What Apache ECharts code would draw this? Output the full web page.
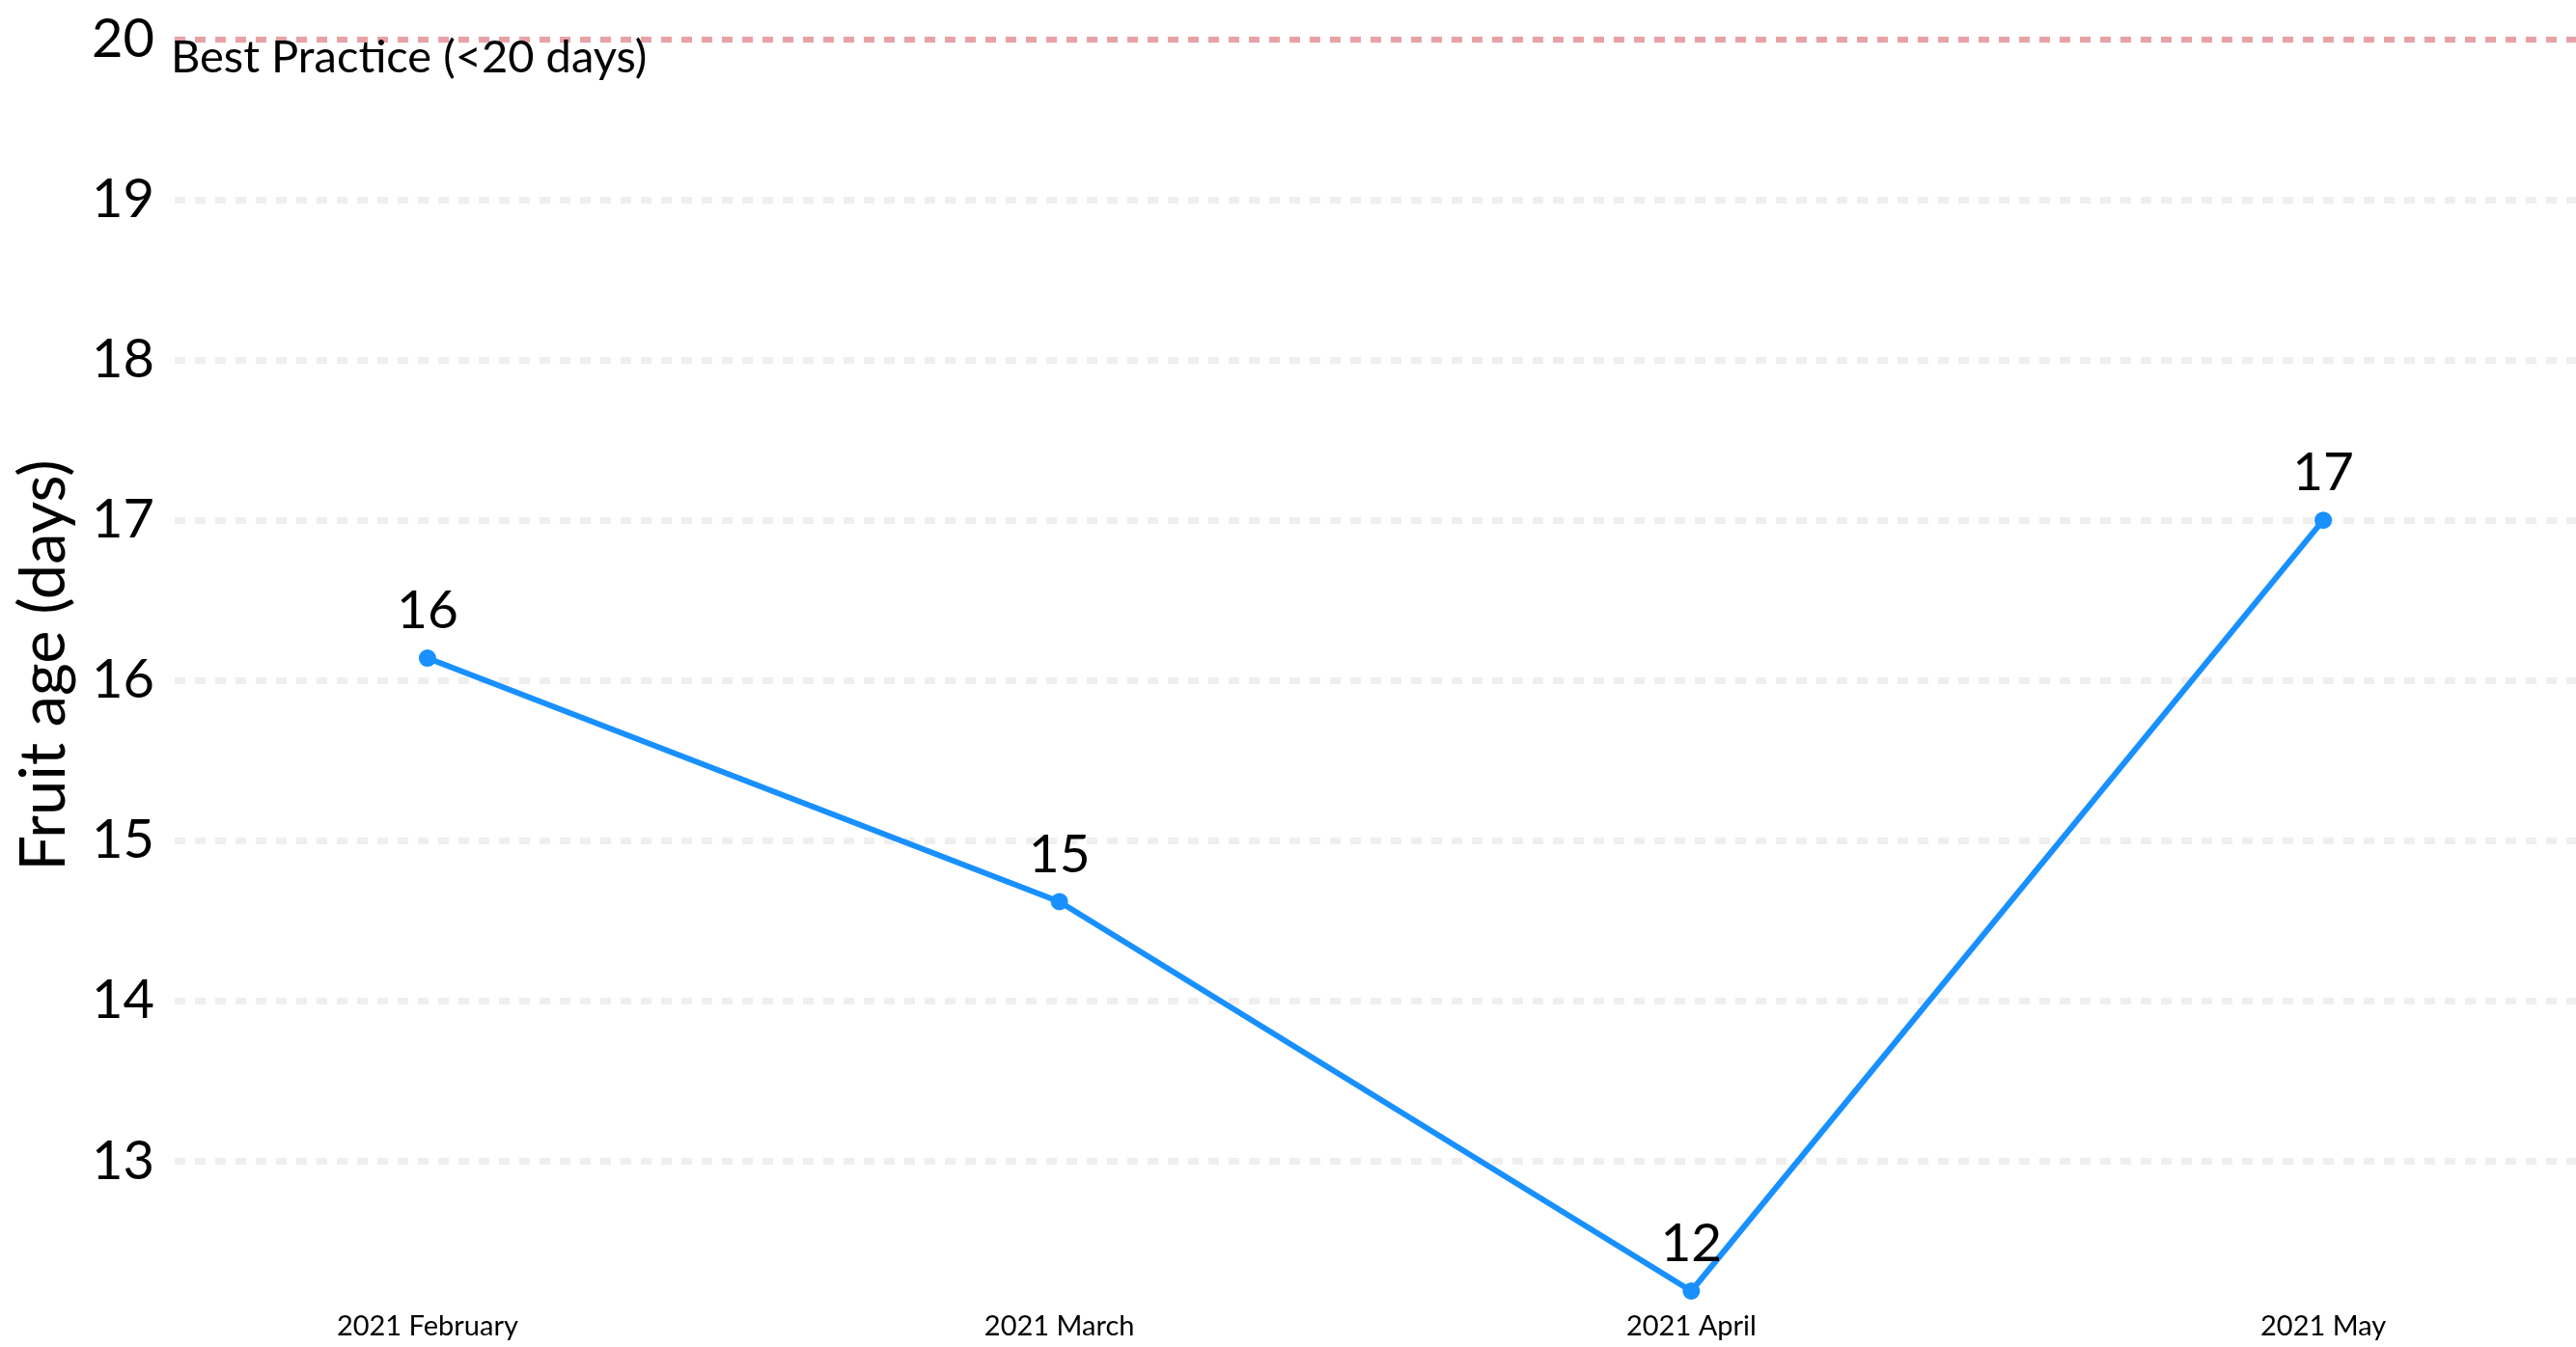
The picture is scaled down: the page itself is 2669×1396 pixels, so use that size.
<!DOCTYPE html>
<html>
<head>
<meta charset="utf-8">
<script src="https://cdn.jsdelivr.net/npm/echarts@6/dist/echarts.min.js"></script>
<style>
html, body { margin: 0; padding: 0; background: #fff; }
#chart { width: 2669px; height: 1396px; }
</style>
</head>
<body>
<div id="chart"></div>
<script>
// data
var months = ['2021 February', '2021 March', '2021 April', '2021 May'];
var fruitAge = [16.14, 14.62, 12.19, 17.0];
var yTicks = [13, 14, 15, 16, 17, 18, 19, 20];
var bestPractice = 20;
var bestPracticeText = 'Best Practice (<20 days)';

var font = 'Lato';
var points = fruitAge.map(function(v, i) { return [i, v]; });
var monthIdx = months.map(function(m, i) { return i; });

var option = {
    animation: false,
    backgroundColor: '#fff',
    grid: { left: 181, right: 0, top: 41, bottom: 58, containLabel: false },
    xAxis: {
        type: 'value',
        min: -0.4,
        max: 3.4,
        axisLine: { show: false },
        axisTick: { show: false },
        splitLine: { show: false },
        axisLabel: {
            customValues: monthIdx,
            formatter: function(v) { return months[Math.round(v)]; },
            fontFamily: font,
            fontSize: 29,
            color: '#000',
            margin: 22
        }
    },
    yAxis: {
        type: 'value',
        min: Math.min.apply(null, fruitAge),
        max: bestPractice,
        name: 'Fruit age (days)',
        nameLocation: 'middle',
        nameGap: 102,
        nameTextStyle: { fontFamily: font, fontSize: 65, color: '#000' },
        axisLine: { show: false },
        axisTick: { show: false, customValues: yTicks },
        axisLabel: {
            customValues: yTicks,
            fontFamily: font,
            fontSize: 56,
            color: '#000',
            margin: 21
        },
        splitLine: {
            show: true,
            lineStyle: { color: '#f0efee', width: 7, type: [11, 10] }
        }
    },
    series: [{
        type: 'line',
        data: points,
        clip: false,
        symbol: 'circle',
        symbolSize: 18,
        itemStyle: { color: '#1890ff' },
        lineStyle: { color: '#1890ff', width: 6 },
        label: {
            show: true,
            position: 'top',
            distance: 12,
            fontFamily: font,
            fontSize: 55,
            color: '#000',
            formatter: function(p) { return Math.round(p.value[1]); }
        },
        markLine: {
            silent: true,
            symbol: 'none',
            lineStyle: { color: '#e8a2a7', width: 6, type: [11, 10] },
            label: {
                show: true,
                position: 'insideStartBottom',
                formatter: bestPracticeText,
                fontFamily: font,
                fontSize: 47,
                color: '#000',
                distance: [-4, -5]
            },
            data: [{ yAxis: bestPractice }]
        }
    }]
};

var myChart = echarts.init(document.getElementById('chart'));
myChart.setOption(option);
</script>
</body>
</html>
